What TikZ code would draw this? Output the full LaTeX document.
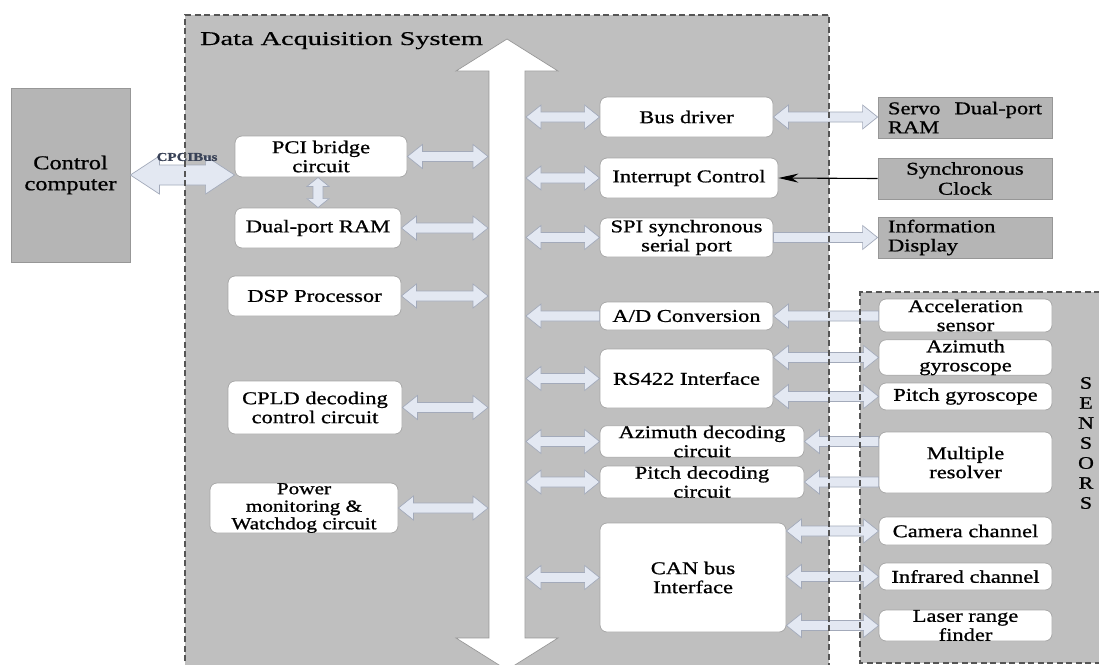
\documentclass[tikz,border=0pt]{standalone}
\usepackage{fontspec}
\setmainfont{Liberation Serif}[FakeStretch=1.25,FakeBold=0.9]
\newfontfamily\titlefont{Liberation Serif}[FakeStretch=1.45,FakeBold=0.5]
\usetikzlibrary{calc,arrows.meta}
\definecolor{dasgray}{HTML}{BFBFBF}
\definecolor{gfill}{HTML}{B5B5B5}
\definecolor{gline}{HTML}{979797}
\definecolor{wline}{HTML}{A8A8A8}
\definecolor{arrfill}{HTML}{E3E8F2}
\definecolor{arrline}{HTML}{A3AABA}
\definecolor{dashc}{HTML}{555555}
\definecolor{labelc}{HTML}{394257}
\def\hl{15pt}\def\hh{12pt}\def\sh{5pt}
% double-headed horizontal block arrow, #1 left end, #2 right end
\newcommand{\arrDD}[2]{\path[barrow] let \p1=#1, \p2=#2 in
  (\x1,\y1) -- ++(\hl,\hh) -- ++(0,\sh-\hh) -- (\x2-\hl,\y1+\sh) -- ++(0,\hh-\sh)
  -- (\x2,\y1) -- ++(-\hl,-\hh) -- ++(0,\hh-\sh) -- (\x1+\hl,\y1-\sh) -- ++(0,\sh-\hh) -- cycle;}
% head at right end only
\newcommand{\arrR}[2]{\path[barrow] let \p1=#1, \p2=#2 in
  (\x1,\y1+\sh) -- (\x2-\hl,\y1+\sh) -- ++(0,\hh-\sh) -- (\x2,\y1) -- ++(-\hl,-\hh)
  -- ++(0,\hh-\sh) -- (\x1,\y1-\sh) -- cycle;}
% head at left end only
\newcommand{\arrL}[2]{\path[barrow] let \p1=#1, \p2=#2 in
  (\x1,\y1) -- ++(\hl,\hh) -- ++(0,\sh-\hh) -- (\x2,\y1+\sh) -- (\x2,\y1-\sh)
  -- (\x1+\hl,\y1-\sh) -- ++(0,\sh-\hh) -- cycle;}
% vertical double-headed, #1 top, #2 bottom
\newcommand{\arrV}[2]{\path[barrow] let \p1=#1, \p2=#2 in
  (\x1,\y1) -- ++(\hh,-\hl) -- ++(\sh-\hh,0) -- (\x1+\sh,\y2+\hl) -- ++(\hh-\sh,0)
  -- (\x1,\y2) -- ++(-\hh,\hl) -- ++(\hh-\sh,0) -- (\x1-\sh,\y1-\hl) -- ++(\sh-\hh,0) -- cycle;}
\begin{document}
\begin{tikzpicture}[x=1pt,y=-1pt,
  wbox/.style={draw=wline, fill=white, rounded corners=7pt, line width=0.8pt,
    inner sep=0pt, align=center, font=\fontsize{18}{19}\selectfont},
  gbox/.style={draw=gline, fill=gfill, line width=0.8pt, inner sep=0pt,
    align=center, font=\fontsize{18}{19}\selectfont},
  barrow/.style={fill=arrfill, draw=arrline, line width=0.7pt, line join=miter},
  dashbox/.style={draw=dashc, line width=1.2pt, dash pattern=on 6pt off 3.5pt}]
\useasboundingbox (0,0) rectangle (1099,664);
\clip (0,0) rectangle (1099,664);
\fill[white] (0,0) rectangle (1099,664);

% background areas
\fill[dasgray] (185,15) rectangle (829,680);
\fill[dasgray] (860,292) rectangle (1110,663);

\node[anchor=base west, inner sep=0pt, font=\titlefont\fontsize{19.5}{20}\selectfont] (title) at (200,45) {Data Acquisition System};

% system bus
\draw[fill=white, draw=gline, line width=0.7pt]
  (507,39) -- (558,71) -- (525,71) -- (525,638) -- (558,638) -- (507,670)
  -- (456,638) -- (489,638) -- (489,71) -- (456,71) -- cycle;
\coordinate (busL) at (488,0);
\coordinate (busR) at (526,0);

% left side
\node[gbox, minimum width=119pt, minimum height=174pt, font=\fontsize{19.5}{21}\selectfont] (cc) at (70.5,175) {Control\\computer};
\node[wbox, minimum width=172pt, minimum height=41pt] (pci) at (321,156.5) {PCI bridge\\circuit};
\node[wbox, minimum width=166pt, minimum height=40pt] (dram) at (318,228) {Dual-port RAM};
\node[wbox, minimum width=173pt, minimum height=40pt] (dsp) at (314.5,296) {DSP Processor};
\node[wbox, minimum width=174pt, minimum height=53pt] (cpld) at (315,407.5) {CPLD decoding\\control circuit};
\node[wbox, minimum width=188pt, minimum height=50pt, font=\fontsize{17}{17.5}\selectfont] (pwr) at (304,508) {Power\\monitoring \&\\Watchdog circuit};

% middle column
\node[wbox, minimum width=173pt, minimum height=40pt] (busdrv) at (686.5,117) {Bus driver};
\node[wbox, minimum width=178pt, minimum height=40pt] (intc) at (689,178) {Interrupt Control};
\node[wbox, minimum width=173pt, minimum height=39pt] (spi) at (686.5,237.5) {SPI synchronous\\serial port};
\node[wbox, minimum width=173pt, minimum height=28pt] (adc) at (686.5,316) {A/D Conversion};
\node[wbox, minimum width=173pt, minimum height=59pt] (rs422) at (686.5,378.5) {RS422 Interface};
\node[wbox, minimum width=204pt, minimum height=31pt] (azdec) at (702,441.5) {Azimuth decoding\\circuit};
\node[wbox, minimum width=204pt, minimum height=32pt] (pidec) at (702,482) {Pitch decoding\\circuit};
\node[wbox, minimum width=186pt, minimum height=109pt] (can) at (693,577.5) {CAN bus\\Interface};

% external boxes
\node[gbox, minimum width=174pt, minimum height=41pt] (servo) at (965,117.5) {\parbox{154pt}{\raggedright Servo\hfill Dual-port\\RAM}};
\node[gbox, minimum width=174pt, minimum height=41pt, font=\fontsize{18}{20}\selectfont] (sync) at (965,178.5) {Synchronous\\Clock};
\node[gbox, minimum width=174pt, minimum height=41pt] (info) at (965,237.5) {\parbox{154pt}{\raggedright Information\\Display}};

% sensors
\node[wbox, minimum width=173pt, minimum height=33pt] (acc) at (965.5,315.5) {Acceleration\\sensor};
\node[wbox, minimum width=173pt, minimum height=33pt] (azg) at (965.5,357.5) {Azimuth\\gyroscope};
\node[wbox, minimum width=173pt, minimum height=27pt] (pig) at (965.5,396.5) {Pitch gyroscope};
\node[wbox, minimum width=173pt, minimum height=61pt] (mres) at (965.5,462.5) {Multiple\\resolver};
\node[wbox, minimum width=173pt, minimum height=28pt] (cam) at (965.5,531) {Camera channel};
\node[wbox, minimum width=173pt, minimum height=27pt] (ir) at (965.5,576.5) {Infrared channel};
\node[wbox, minimum width=173pt, minimum height=31pt] (laser) at (965.5,625.5) {Laser range\\finder};
\node[inner sep=0pt, align=center, font=\fontsize{17.5}{20}\selectfont] (sens) at (1086,443) {S\\E\\N\\S\\O\\R\\S};

% CPCI bus
{\def\hl{29pt}\def\hh{19pt}\def\sh{10pt}\arrDD{(cc.east)}{(pci.west)}}
\node[inner sep=0pt, text=labelc, font=\bfseries\fontsize{12}{12}\selectfont] (cpcilbl) at (187,157) {CPCIBus};
{\def\hl{9pt}\def\hh{11pt}\def\sh{5pt}\arrV{(dram.north |- pci.south)}{(dram.north)}}

% left column to bus
\arrDD{(pci.east)}{(pci.east -| busL)}
\arrDD{(dram.east)}{(dram.east -| busL)}
\arrDD{(dsp.east)}{(dsp.east -| busL)}
\arrDD{(cpld.east)}{(cpld.east -| busL)}
\arrDD{(pwr.east)}{(pwr.east -| busL)}

% bus to middle column
\arrDD{(busR |- busdrv.west)}{(busdrv.west)}
\arrDD{(busR |- intc.west)}{(intc.west)}
\arrDD{(busR |- spi.west)}{(spi.west)}
\arrL{(busR |- adc.west)}{(adc.west)}
\arrDD{(busR |- rs422.west)}{(rs422.west)}
\arrDD{(busR |- azdec.west)}{(azdec.west)}
\arrDD{(busR |- pidec.west)}{(pidec.west)}
\arrDD{(busR |- can.west)}{(can.west)}

% middle column to outside
\arrDD{(busdrv.east)}{(servo.west)}
\draw[-{Stealth[length=20pt,width=9pt]}, line width=1.1pt, black] (sync.west) -- (intc.east);
\arrR{(spi.east)}{(info.west)}
\arrL{(adc.east)}{(acc.west)}
\arrDD{(rs422.east |- azg.west)}{(azg.west)}
\arrDD{(rs422.east |- pig.west)}{(pig.west)}
\arrL{(azdec.east)}{(mres.west |- azdec.east)}
\arrL{(pidec.east)}{(mres.west |- pidec.east)}
\arrDD{(can.east |- cam.west)}{(cam.west)}
\arrDD{(can.east |- ir.west)}{(ir.west)}
\arrDD{(can.east |- laser.west)}{(laser.west)}

% dashed borders on top
\draw[dashbox] (185,680) -- (185,15) -- (829,15) -- (829,680);
\draw[dashbox] (1110,663) -- (860,663) -- (860,292) -- (1110,292);
\end{tikzpicture}
\end{document}
